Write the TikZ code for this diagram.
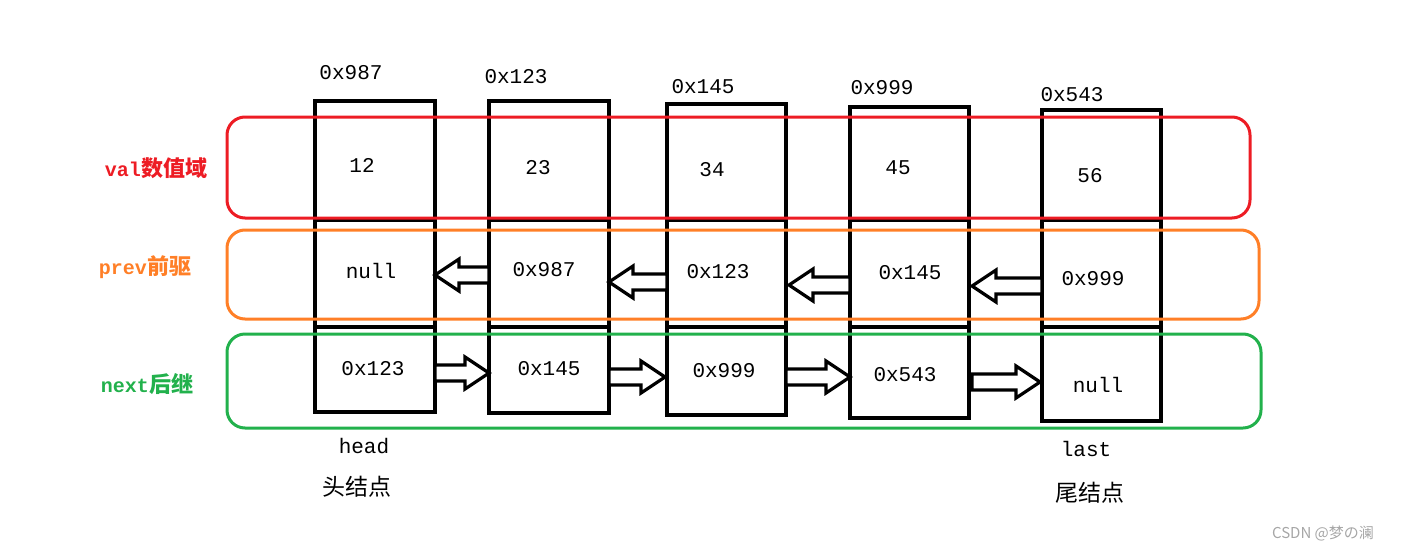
\documentclass[tikz,border=0pt]{standalone}
\usepackage{fontspec}
\setmainfont{Liberation Mono}
\newfontfamily\cjk{Noto Sans CJK SC}
\begin{document}
\begin{tikzpicture}[x=1pt,y=-1pt,
  cell/.style={draw=black,line width=3.5pt},
  band/.style={line width=3pt,rounded corners=18pt},
  hol/.style={draw=black,fill=white,line width=3.2pt,line join=miter},
  t/.style={font=\fontsize{21}{21}\selectfont,inner sep=0pt},
  lab/.style={font=\fontsize{20}{20}\selectfont\bfseries,inner sep=0pt}]
\useasboundingbox (0,0) rectangle (1403,552);
\definecolor{cr}{RGB}{237,28,36}
\definecolor{co}{RGB}{255,127,39}
\definecolor{cg}{RGB}{34,177,76}
% cells
\foreach \n/\xa/\xb/\ya/\yb in {a/315/435/101/412,b/489/609/101/413,c/667/786/104/415,d/850/969/107/418,e/1042/1161/110/421}{
  \draw[cell] (\xa,\ya) rectangle (\xb,\yb);
  \draw[cell] (\xa,220) -- (\xb,220);
  \draw[cell] (\xa,327) -- (\xb,327);
  \node[coordinate] (\n) at (\xa,\ya) {};
}
% bands
\draw[band,draw=cr] (227,117) rectangle (1250,218);
\draw[band,draw=co] (227,230) rectangle (1259,319);
\draw[band,draw=cg] (227,334) rectangle (1261,428);
% hollow arrows
\foreach \tip/\tail/\y in {435/489/275,609/667/282,789/850/285,972/1042/286}{
  \draw[hol] (\tip,\y) -- (\tip+24,\y-16) -- (\tip+24,\y-8) -- (\tail,\y-8) -- (\tail,\y+8) -- (\tip+24,\y+8) -- (\tip+24,\y+16) -- cycle;}
\foreach \tail/\tip/\y in {435/489/373,609/665/377,786/850/377,972/1040/382}{
  \draw[hol] (\tip,\y) -- (\tip-24,\y-16) -- (\tip-24,\y-8) -- (\tail,\y-8) -- (\tail,\y+8) -- (\tip-24,\y+8) -- (\tip-24,\y+16) -- cycle;}
% addresses
\node[t] (h1) at (351,73) {0x987};
\node[t] (h2) at (516,77) {0x123};
\node[t] (h3) at (703,87) {0x145};
\node[t] (h4) at (882,88) {0x999};
\node[t] (h5) at (1072,95) {0x543};
% values
\node[t] (v1) at (362,165) {12};
\node[t] (v2) at (538,168) {23};
\node[t] (v3) at (712,170) {34};
\node[t] (v4) at (898,168) {45};
\node[t] (v5) at (1090,176) {56};
\node[t] (p1) at (371,271) {null};
\node[t] (p2) at (544,270) {0x987};
\node[t] (p3) at (718,272) {0x123};
\node[t] (p4) at (910,273) {0x145};
\node[t] (p5) at (1093,279) {0x999};
\node[t] (n1) at (373,369) {0x123};
\node[t] (n2) at (549,369) {0x145};
\node[t] (n3) at (724,371) {0x999};
\node[t] (n4) at (905,375) {0x543};
\node[t] (n5) at (1098,385) {null};
% side labels
\node[lab,text=cr] (l1) at (156,168) {val{\cjk\fontsize{22}{22}\selectfont 数值域}};
\node[lab,text=co] (l2) at (145,267) {prev{\cjk\fontsize{22}{22}\selectfont 前驱}};
\node[lab,text=cg] (l3) at (147,384) {next{\cjk\fontsize{22}{22}\selectfont 后继}};
\node[t] (hd) at (364,446) {head};
\node[t,font=\cjk\fontsize{23}{23}\selectfont] (hc) at (357,487) {头结点};
\node[t] (ls) at (1086,449) {last};
\node[t,font=\cjk\fontsize{23}{23}\selectfont] (lc) at (1090,493) {尾结点};
\node[t,font=\cjk\fontsize{15}{15}\selectfont,text=gray!70] (wm) at (1323,533) {CSDN @梦の澜};
\end{tikzpicture}
\end{document}
